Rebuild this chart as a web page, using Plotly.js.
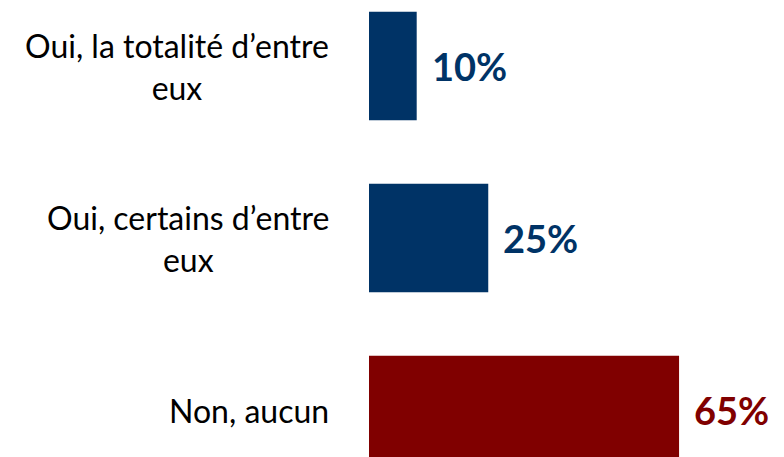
<!DOCTYPE html>
<html><head><meta charset="utf-8">
<script src="https://cdn.plot.ly/plotly-3.0.1.min.js"></script>
<style>html,body{margin:0;padding:0;background:#fff}#c{width:784px;height:457px}</style>
</head><body><div id="c"></div>
<script>
const categories = ["Oui, la totalité d’entre<br>eux", "Oui, certains d’entre<br>eux", "Non, aucun"];
const values = [10, 25, 65];
const valueLabels = ["10%", "25%", "65%"];
const colors = ["#003366", "#003366", "#800000"];

const trace = {
  type: 'bar', orientation: 'h',
  y: categories.map((c, i) => i), x: values,
  width: 0.63,
  marker: {color: colors},
  hoverinfo: 'none'
};
const annotations = [];
categories.forEach((c, i) => {
  annotations.push({
    xref: 'paper', yref: 'y', x: -0.092, y: i, xanchor: 'right', yanchor: 'middle',
    text: c, align: 'center', showarrow: false,
    font: {family: 'Lato, sans-serif', size: 32, color: '#000'}
  });
  annotations.push({
    xref: 'x', yref: 'y', x: values[i], y: i, xanchor: 'left', yanchor: 'middle',
    xshift: 13, text: '<b>' + valueLabels[i] + '</b>', showarrow: false,
    font: {family: 'Lato, sans-serif', size: 38, color: colors[i]}
  });
});
const layout = {
  width: 784, height: 457,
  margin: {l: 369, r: 0, t: 0, b: 0},
  paper_bgcolor: '#fff', plot_bgcolor: '#fff',
  xaxis: {range: [0, 87], visible: false, fixedrange: true},
  yaxis: {range: [2.273, -0.384], visible: false, fixedrange: true},
  showlegend: false,
  annotations: annotations
};
Plotly.newPlot('c', [trace], layout, {staticPlot: true});
</script></body></html>
